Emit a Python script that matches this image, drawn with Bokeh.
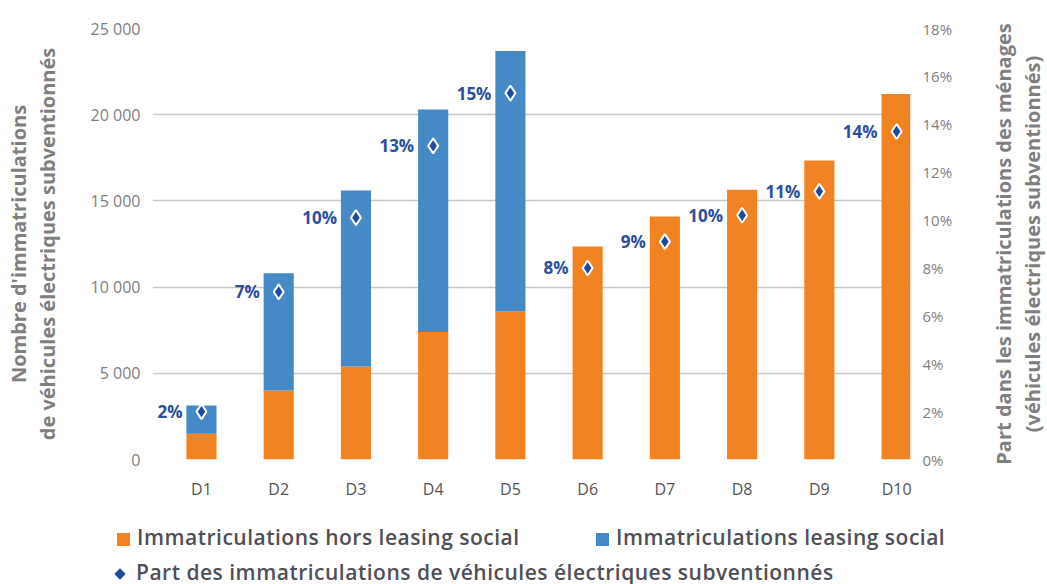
from bokeh.plotting import figure
from bokeh.layouts import column, row
from bokeh.models import ColumnDataSource, Range1d, LinearAxis, FixedTicker, Div
from bokeh.core.properties import value
from bokeh.embed import file_html
from bokeh.resources import INLINE

categories = ["D1", "D2", "D3", "D4", "D5", "D6", "D7", "D8", "D9", "D10"]
hors_leasing = [1500, 4000, 5400, 7400, 8600, 12350, 14100, 15650, 17350, 21200]
leasing = [1630, 6800, 10200, 12900, 15100, 0, 0, 0, 0, 0]
part_pct = [2.0, 7.0, 10.1, 13.1, 15.3, 8.0, 9.1, 10.2, 11.2, 13.7]
part_labels = ["2%", "7%", "10%", "13%", "15%", "8%", "9%", "10%", "11%", "14%"]
left_ticks = [0, 5000, 10000, 15000, 20000, 25000]
right_ticks = [0, 2, 4, 6, 8, 10, 12, 14, 16, 18]
legend_labels = ["Immatriculations hors leasing social",
                 "Immatriculations leasing social",
                 "Part des immatriculations de véhicules électriques subventionnés"]
left_title = "Nombre d'immatriculations\nde véhicules électriques subventionnés"
right_title = "Part dans les immatriculations des ménages\n(véhicules électriques subventionnés)"

ORANGE = "#F28322"
BLUE = "#4589C7"
DIAMOND = "#1F4B9E"
LABEL = "#2C4E9F"
GREY = "#7F7F7F"
FONT = "Open Sans"

xpos = list(range(1, len(categories) + 1))
src = ColumnDataSource(dict(x=xpos, hors=hors_leasing, leasing=leasing,
                            pct=part_pct, lab=part_labels))

p = figure(width=977, height=504, output_backend="svg", toolbar_location=None,
           x_range=Range1d(0.366, 10.18), y_range=Range1d(0, 25000),
           min_border_left=152, min_border_right=67, min_border_top=28,
           min_border_bottom=45)
p.outline_line_color = None
p.background_fill_color = "white"
p.border_fill_color = "white"
p.extra_y_ranges = {"pct": Range1d(0, 18)}

bars = p.vbar_stack(["hors", "leasing"], x="x", width=0.39, source=src,
                    color=[ORANGE, BLUE], line_color=None)
pts = p.scatter(x="x", y="pct", y_range_name="pct", source=src, marker="diamond",
                size=15, fill_color=DIAMOND, line_color="white", line_width=2)
p.text(x="x", y="pct", y_range_name="pct", text="lab", source=src,
       x_offset=-19, text_align="right", text_baseline="middle",
       text_font=value(FONT), text_font_style="bold", text_font_size="17px",
       text_color=LABEL)

# grid
p.xgrid.grid_line_color = None
p.ygrid.ticker = FixedTicker(ticks=left_ticks)
p.ygrid.grid_line_color = "#C9C9C9"
p.ygrid.grid_line_width = 1.5

# x axis
xa = p.xaxis[0]
xa.ticker = FixedTicker(ticks=xpos)
xa.major_label_overrides = {x: c for x, c in zip(xpos, categories)}
xa.axis_line_color = None
xa.major_tick_line_color = None
xa.minor_tick_line_color = None
xa.major_label_standoff = 12
xa.major_label_text_font = FONT
xa.major_label_text_font_size = "16px"
xa.major_label_text_color = "#555555"

# left axis
ya = p.yaxis[0]
ya.ticker = FixedTicker(ticks=left_ticks)
ya.major_label_overrides = {t: f"{t:,}".replace(",", " ") for t in left_ticks}
ya.axis_line_color = None
ya.major_tick_line_color = None
ya.minor_tick_line_color = None
ya.major_label_standoff = 6
ya.major_label_text_font = FONT
ya.major_label_text_font_size = "16px"
ya.major_label_text_color = GREY
ya.axis_label = left_title
ya.axis_label_text_font = FONT
ya.axis_label_text_font_style = "bold"
ya.axis_label_text_font_size = "20px"
ya.axis_label_text_line_height = 1.05
ya.axis_label_text_color = GREY
ya.axis_label_standoff = 27

# right axis (ticks only)
ra = LinearAxis(y_range_name="pct", ticker=FixedTicker(ticks=right_ticks))
ra.major_label_overrides = {t: f"{t}%" for t in right_ticks}
ra.axis_line_color = None
ra.major_tick_line_color = None
ra.minor_tick_line_color = None
ra.major_label_standoff = 6
ra.major_label_text_font = FONT
ra.major_label_text_font_size = "15px"
ra.major_label_text_color = GREY
p.add_layout(ra, "right")

# right-hand title: left-side axis label of a narrow companion figure (reads bottom-to-top)
tf = figure(width=70, height=504, output_backend="svg", toolbar_location=None,
            x_range=Range1d(0, 1), y_range=Range1d(0, 1),
            min_border_left=68, min_border_right=0, min_border_top=28,
            min_border_bottom=45)
tf.outline_line_color = None
tf.grid.visible = False
tf.xaxis.visible = False
ta = tf.yaxis[0]
ta.ticker = FixedTicker(ticks=[])
ta.axis_line_color = None
ta.major_tick_line_color = None
ta.minor_tick_line_color = None
ta.major_label_text_font_size = "0px"
ta.axis_label = right_title
ta.axis_label_text_font = FONT
ta.axis_label_text_font_style = "bold"
ta.axis_label_text_font_size = "20px"
ta.axis_label_text_line_height = 1.05
ta.axis_label_text_color = GREY
ta.axis_label_standoff = 0

# legend (HTML strip under the chart)
txt = ("font-family:Open Sans,sans-serif;font-size:21px;font-weight:600;color:#4F4F57;"
       "letter-spacing:0.5px;white-space:nowrap;line-height:28px;")
sq = "display:inline-block;width:13px;height:13px;margin-right:7px;vertical-align:-1px;background:{};"
dia = ("display:inline-block;width:8px;height:8px;margin:0 12px 0 0;vertical-align:2px;"
       "transform:rotate(45deg);background:{};")
html = (
    '<div style="position:relative;width:1047px;height:80px;">'
    f'<div style="position:absolute;left:117px;top:19px;{txt}">'
    f'<span style="{sq.format(ORANGE)}"></span>{legend_labels[0]}</div>'
    f'<div style="position:absolute;left:596px;top:19px;{txt}">'
    f'<span style="{sq.format(BLUE)}"></span>{legend_labels[1]}</div>'
    f'<div style="position:absolute;left:116px;top:54px;{txt}">'
    f'<span style="{dia.format(DIAMOND)}"></span>{legend_labels[2]}</div>'
    "</div>"
)
leg = Div(text=html, width=1047, height=80, margin=0)

layout = column(row(p, tf, spacing=0), leg, spacing=0)
open("out.html", "w").write(file_html(layout, INLINE))
